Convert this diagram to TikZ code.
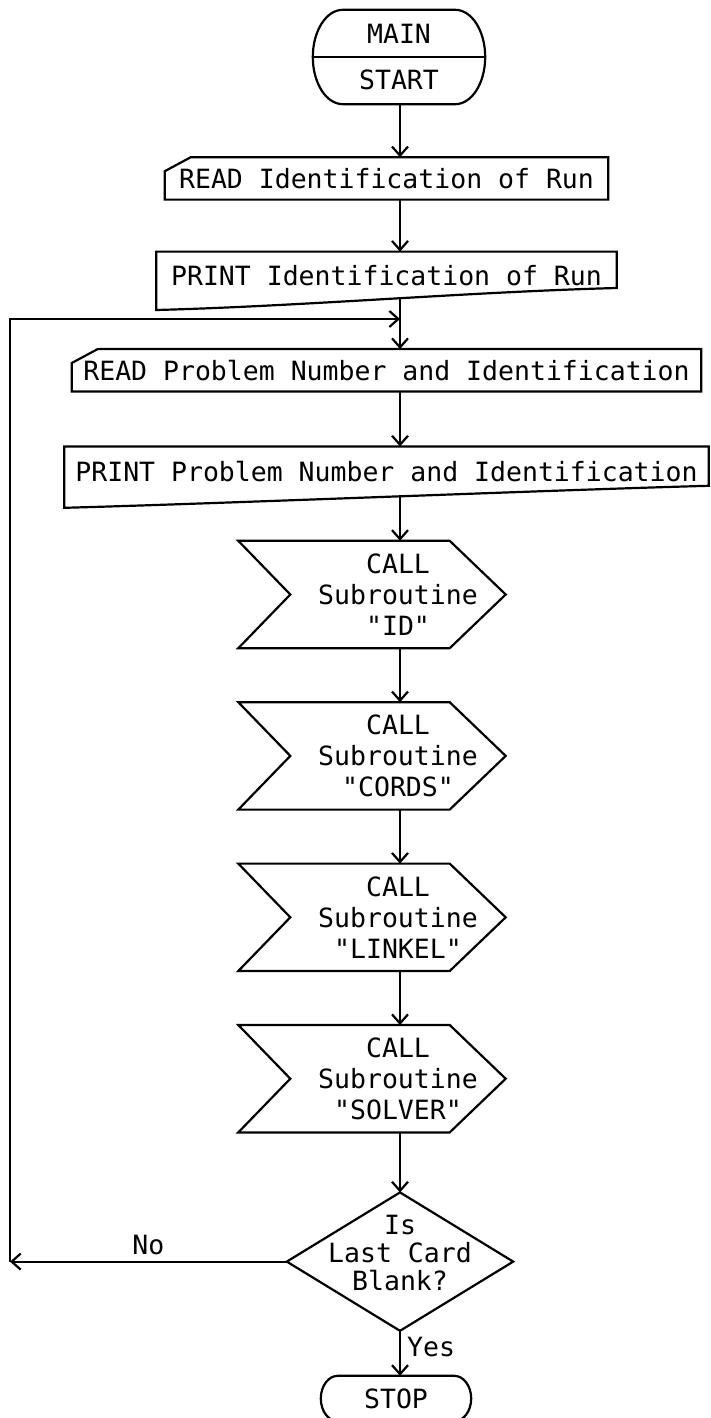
\documentclass[tikz,border=0pt]{standalone}
\usepackage{fontspec}
\setmonofont{DejaVu Sans Mono}
\usetikzlibrary{arrows.meta, positioning, calc}

\begin{document}
\begin{tikzpicture}[
  x=1pt, y=1pt,
  font=\ttfamily\fontsize{26.5}{31}\selectfont,
  box/.style={rectangle, inner sep=0pt, align=center, text centered},
  terminal/.style={box, minimum width=172pt, minimum height=94pt},
  card/.style={box, minimum height=42pt},
  printout/.style={box, minimum height=47pt},
  callbox/.style={box, minimum width=215pt, minimum height=107pt},
  decision/.style={box, minimum width=226pt, minimum height=138pt, text depth=18pt,
    font=\ttfamily\fontsize{26.5}{28}\selectfont},
  outline/.style={line width=2.2pt},
  arrow/.style={line width=2.2pt, -{Straight Barb[length=9pt, width=16pt]}}
]
\useasboundingbox (0,0) rectangle (710,-1418);
\coordinate (col) at (400,0);
\node (start) [terminal] at (399,-57) {MAIN\\[15pt]START};
\node (readrun) [card, minimum width=443pt, below=53pt of start, xshift=-12.5pt] {READ Identification of Run};
\node (printrun) [printout, minimum width=460pt, below=52pt of readrun] {PRINT Identification of Run};
\node (readprob) [card, minimum width=629pt, below=50pt of printrun] {READ Problem Number and Identification};
\node (printprob) [printout, minimum width=644pt, minimum height=50pt, below=55pt of readprob] {PRINT Problem Number and Identification};
\node (callid) [callbox, below=44pt of printprob, xshift=11.5pt] {CALL\\Subroutine\\"ID"};
\node (callcords) [callbox, below=54pt of callid] {CALL\\Subroutine\\"CORDS"};
\node (calllinkel) [callbox, below=54pt of callcords] {CALL\\Subroutine\\"LINKEL"};
\node (callsolver) [callbox, below=54pt of calllinkel] {CALL\\Subroutine\\"SOLVER"};
\node (dec) [decision, below=60pt of callsolver, xshift=2pt] {Is\\Last Card\\Blank?};
\node (stop) [terminal, minimum width=150pt, minimum height=45pt, below=45pt of dec, xshift=-4pt] {STOP};
% outlines
\foreach \b/\r in {start/30, stop/17}
  \draw[outline] let \p1 = ($(\b.north)-(\b.south)$) in
    ($(\b.north west)+(\r,0)$) -- ($(\b.north east)+(-\r,0)$)
    arc[start angle=90, end angle=-90, x radius=\r pt, y radius=0.5*\y1]
    -- ($(\b.south west)+(\r,0)$)
    arc[start angle=270, end angle=90, x radius=\r pt, y radius=0.5*\y1] -- cycle;
\draw[outline] (start.west) -- (start.east);
\foreach \b in {readrun, readprob}
  \draw[outline] ($(\b.north west)+(26,0)$) -- (\b.north east) -- (\b.south east)
    -- (\b.south west) -- ($(\b.north west)+(0,-14)$) -- cycle;
\foreach \b in {printrun, printprob}
  \draw[outline] (\b.north west) -- (\b.north east) -- ($(\b.south east)+(0,11)$)
    .. controls +(-150,-4) and +(150,4) .. ($(\b.south west)+(0,-11)$) -- cycle;
\foreach \b in {callid, callcords, calllinkel, callsolver}
  \draw[outline] ($(\b.north west)+(-52,0)$) -- ($(\b.north east)+(-56,0)$) -- (\b.east)
    -- ($(\b.south east)+(-56,0)$) -- ($(\b.south west)+(-52,0)$) -- (\b.west) -- cycle;
\draw[outline] (dec.north) -- (dec.east) -- (dec.south) -- (dec.west) -- cycle;
% connectors
\coordinate (join) at ($(printrun.south -| col)!0.4!(readprob.north -| col)$);
\coordinate (corner) at (dec.west -| 10,0);
\draw[arrow] (start.south -| col) -- (readrun.north -| col);
\draw[arrow] (readrun.south -| col) -- (printrun.north -| col);
\draw[arrow] (printrun.south -| col) -- (readprob.north -| col);
\draw[arrow] (readprob.south -| col) -- (printprob.north -| col);
\draw[arrow] (printprob.south -| col) -- (callid.north -| col);
\draw[arrow] (callid.south -| col) -- (callcords.north -| col);
\draw[arrow] (callcords.south -| col) -- (calllinkel.north -| col);
\draw[arrow] (calllinkel.south -| col) -- (callsolver.north -| col);
\draw[arrow] (callsolver.south -| col) -- (dec.north);
\draw[arrow] (dec.south) -- node[right, pos=0.35, inner sep=6pt] {Yes} (stop.north -| col);
\draw[arrow] (dec.west) -- node[above, inner sep=6pt] {No} (corner);
\draw[arrow] (corner) |- (join);
\end{tikzpicture}
\end{document}
